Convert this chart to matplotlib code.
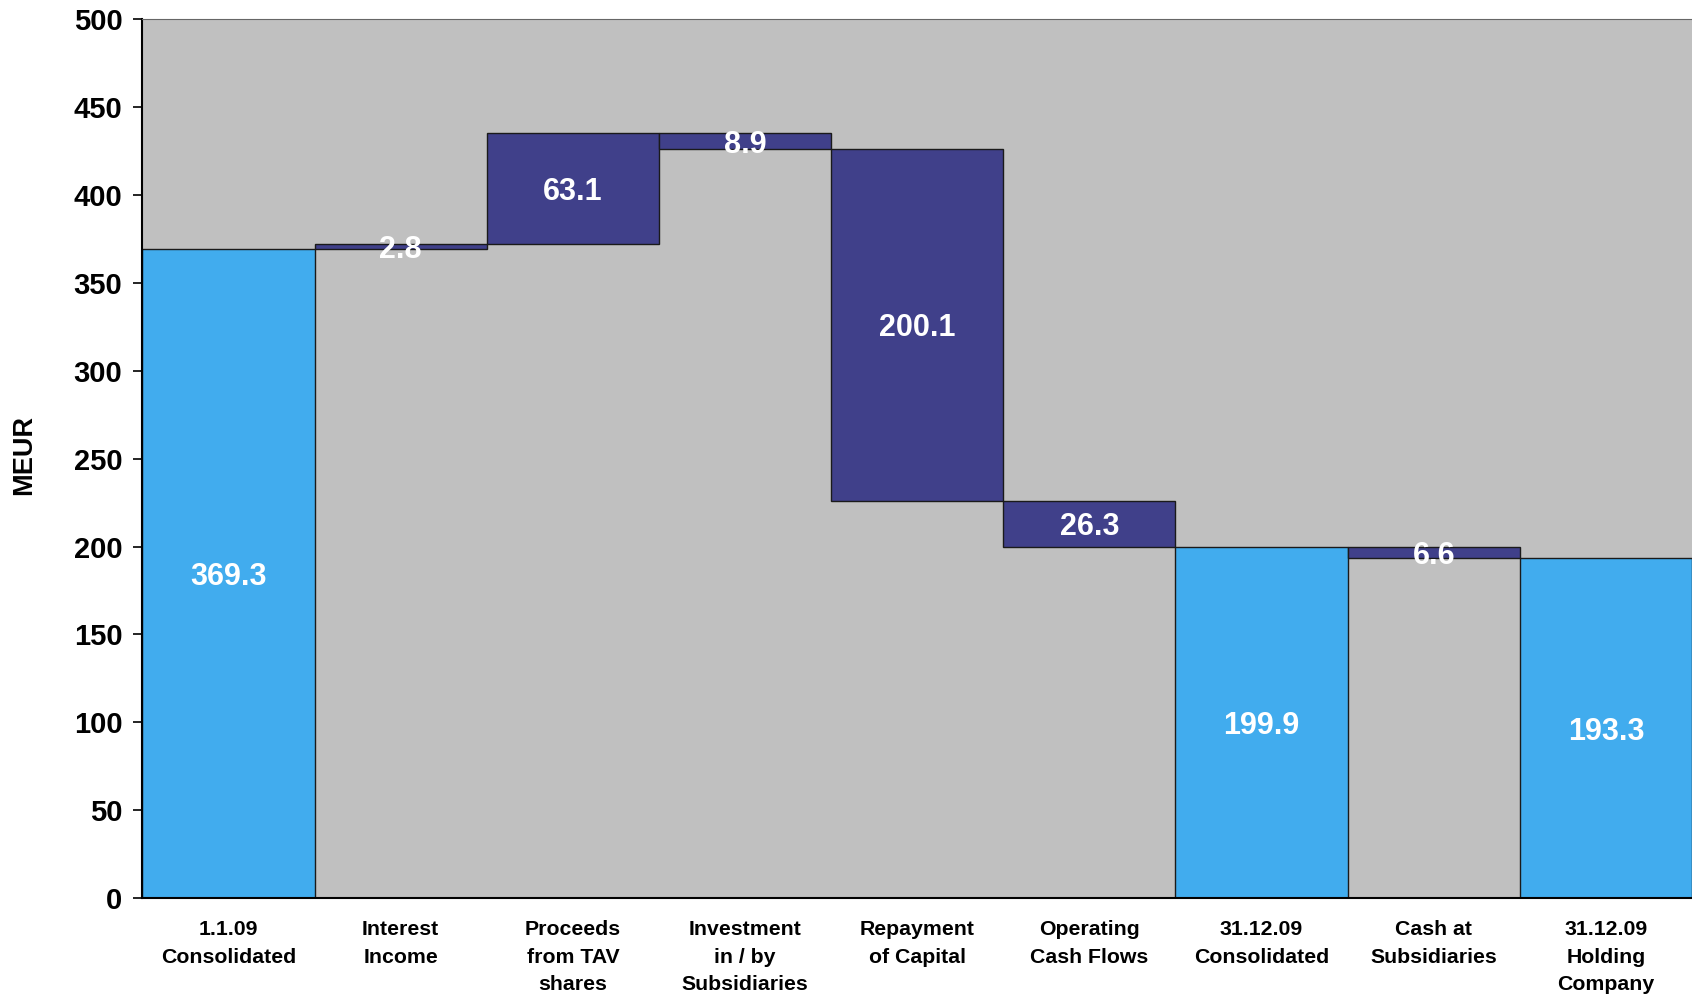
import matplotlib
matplotlib.use("Agg")
import matplotlib.pyplot as plt
import numpy as np

plt.rcParams['font.family'] = ['Liberation Sans', 'DejaVu Sans']
plt.rcParams['font.weight'] = 'bold'

# Cash bridge 2009, MEUR
categories = ["1.1.09\nConsolidated", "Interest\nIncome", "Proceeds\nfrom TAV\nshares",
              "Investment\nin / by\nSubsidiaries", "Repayment\nof Capital",
              "Operating\nCash Flows", "31.12.09\nConsolidated", "Cash at\nSubsidiaries",
              "31.12.09\nHolding\nCompany"]
values = [369.3, 2.8, 63.1, -8.9, -200.1, -26.3, 199.9, -6.6, 193.3]
is_total = [True, False, False, False, False, False, True, False, True]

col_total = "#41ACEE"
col_delta = "#40408A"
col_bg = "#C0C0C0"

# waterfall bottoms / heights
bottoms = []
heights = []
level = 0.0
for v, tot in zip(values, is_total):
    if tot:
        bottoms.append(0.0)
        heights.append(v)
        level = v
    else:
        if v >= 0:
            bottoms.append(level)
        else:
            bottoms.append(level + v)
        heights.append(abs(v))
        level = level + v

fig = plt.figure(figsize=(16.92, 9.97), dpi=100)
ax = fig.add_axes([0.0842, 0.0993, 0.9158, 0.8812])
ax.set_facecolor(col_bg)

x = np.arange(len(values))
colors = [col_total if t else col_delta for t in is_total]
ax.bar(x, heights, bottom=bottoms, width=1.0, color=colors,
       edgecolor="#1a1a1a", linewidth=1.0, zorder=2)

for xi, b, h in zip(x, bottoms, heights):
    ax.text(xi, b + h / 2, f"{h:.1f}", ha="center", va="center_baseline",
            color="white", fontsize=22, fontweight="bold", zorder=3)

ax.set_xlim(-0.5, len(values) - 0.5)
ax.set_ylim(0, 500)
ax.set_yticks(np.arange(0, 501, 50))
ax.set_xticks(x)
ax.set_xticklabels(categories, fontsize=15.3, fontweight="bold", linespacing=1.56)
ax.tick_params(axis="x", length=0, pad=16)
ax.tick_params(axis="y", length=6.5, width=1.2, pad=8, labelsize=21)
for lab in ax.get_yticklabels():
    lab.set_fontweight("bold")

ax.spines["left"].set_linewidth(1.5)
ax.spines["bottom"].set_linewidth(1.5)
ax.spines["top"].set_color("#666666")
ax.spines["right"].set_visible(False)

fig.text(0.0142, 0.544, "MEUR", rotation=90, ha="center", va="center",
         fontsize=19.5, fontweight="bold")

fig.savefig("out.png", dpi=100)
